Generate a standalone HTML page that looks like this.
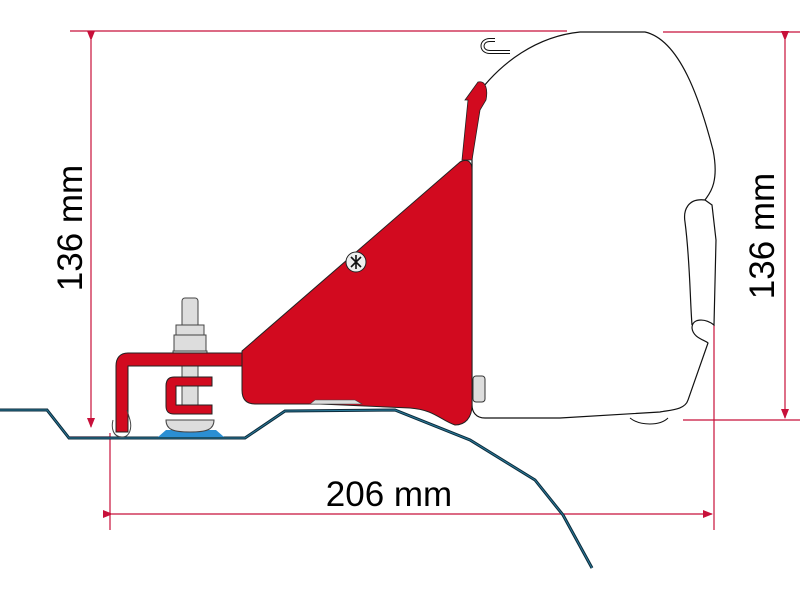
<!DOCTYPE html>
<html><head><meta charset="utf-8"><style>html,body{margin:0;padding:0;background:#fff}svg{display:block}</style></head>
<body>
<svg width="800" height="600" viewBox="0 0 800 600" xmlns="http://www.w3.org/2000/svg">
<defs>
<marker id="a" markerWidth="10" markerHeight="10" refX="9" refY="5" orient="auto" markerUnits="userSpaceOnUse">
<path d="M0,1 L10,5 L0,9 Z" fill="#c8103a"/></marker>
</defs>
<!-- dimension lines -->
<g stroke="#c8103a" stroke-width="1.2" fill="none">
<line x1="70" y1="31" x2="567" y2="31"/>
<line x1="663" y1="32" x2="800" y2="32"/>
<line x1="683" y1="420" x2="800" y2="420"/>
<line x1="70" y1="437" x2="110" y2="437"/>
<line x1="91" y1="40" x2="91" y2="427" marker-start="url(#a)" marker-end="url(#a)"/>
<line x1="785" y1="40" x2="785" y2="418" marker-start="url(#a)" marker-end="url(#a)"/>
<line x1="110" y1="433" x2="110" y2="530"/>
<line x1="714" y1="325" x2="714" y2="530"/>
<line x1="112" y1="514" x2="712" y2="514" marker-start="url(#a)" marker-end="url(#a)"/>
</g>
<g font-family="Liberation Sans, sans-serif" font-size="35" fill="#000">
<text x="389" y="506" text-anchor="middle">206 mm</text>
<text transform="translate(82,228) rotate(-90)" text-anchor="middle">136 mm</text>
<text transform="translate(774,236) rotate(-90)" text-anchor="middle">136 mm</text>
</g>
<!-- roof -->
<path d="M0,410 L47,410 L69,438 L245,438 L285,411 L395,410 L470,440 L535,480 L563,515 L592,568" fill="none" stroke="#0c2a3a" stroke-width="3"/>
<path d="M0,410 L47,410 L69,438 L245,438 L285,411 L395,410 L470,440 L535,480 L563,515 L592,568" fill="none" stroke="#2a7a9a" stroke-width="1"/>
<!-- blue pad -->
<path d="M158,437 L166,430 L216,430 L224,437 Z" fill="#2b8fd3"/>
<!-- awning -->
<path d="M472,102 C500,60 540,36 580,32 L645,32 C680,40 700,100 713,150 C720,185 708,195 705,200 L712,205 L716,240 L714,325 C705,318 692,318 692,328 C693,338 705,340 708,343 L688,400 C685,410 670,410 660,412 L560,418 L485,418 C476,418 472,412 472,405 Z" fill="#fff" stroke="#111" stroke-width="1.2"/>
<path d="M705,200 C688,198 683,210 685,222 C690,260 690,300 692,325" fill="none" stroke="#111" stroke-width="1.2"/>
<path d="M630,418 C640,426 660,426 668,418" fill="none" stroke="#111" stroke-width="1"/>
<!-- hook -->
<path d="M510,52 L490,52 C480,52 480,40 490,40 L495,40" fill="none" stroke="#111" stroke-width="4"/>
<path d="M510,52 L490,52 C480,52 480,40 490,40 L495,40" fill="none" stroke="#fff" stroke-width="2"/>
<rect x="473" y="376" width="12" height="26" rx="3" fill="#ddd" stroke="#333"/>
<!-- red bracket -->
<path d="M465,100 L478,82 C486,80 488,90 486,100 L480,110 L472,160 L462,160 L468,100 Z" fill="#d20a1f" stroke="#222" stroke-width="0.8"/>
<path d="M242,351 L460,162 C468,158 472,162 472,170 L472,405 C472,418 465,425 455,425 C440,420 435,410 410,408 L320,404 L255,404 C245,404 242,398 242,390 Z" fill="#d20a1f" stroke="#222" stroke-width="1"/>
<path d="M310,404 L315,400 L355,400 L362,404 Z" fill="#ddd" stroke="#444" stroke-width="0.6"/>
<circle cx="356" cy="262" r="10" fill="#eee" stroke="#222"/>
<path d="M351,257 L361,267 M361,257 L351,267 M356,255 L356,269" stroke="#111" stroke-width="1.6"/>
<!-- bolt -->
<rect x="182" y="298" width="16" height="30" rx="3" fill="#ddd" stroke="#444"/>
<rect x="182" y="328" width="16" height="82" fill="#ddd" stroke="#444"/>
<rect x="176" y="325" width="28" height="10" fill="#ddd" stroke="#444"/>
<rect x="174" y="335" width="32" height="16" fill="#ddd" stroke="#444"/>
<rect x="173" y="351" width="34" height="6" fill="#ddd" stroke="#444"/>
<path d="M166,420 L214,420 C214,430 206,432 190,432 C174,432 166,430 166,420 Z" fill="#ddd" stroke="#444"/>
<!-- arm -->
<path d="M242,353 L128,353 C120,353 116,358 116,366 L116,432 L128,432 L128,366 L242,366 Z" fill="#d20a1f" stroke="#222" stroke-width="1"/>
<path d="M113,420 C111,428 113,437 122,437 C130,437 132,428 130,420 L127,410" fill="none" stroke="#444" stroke-width="1"/>
<path d="M212,377 L174,377 C168,377 166,381 166,386 L166,406 C166,411 168,414 174,414 L212,414 L212,405 L176,405 L176,386 L212,386 Z" fill="#d20a1f" stroke="#222" stroke-width="1"/>
</svg>
</body></html>
